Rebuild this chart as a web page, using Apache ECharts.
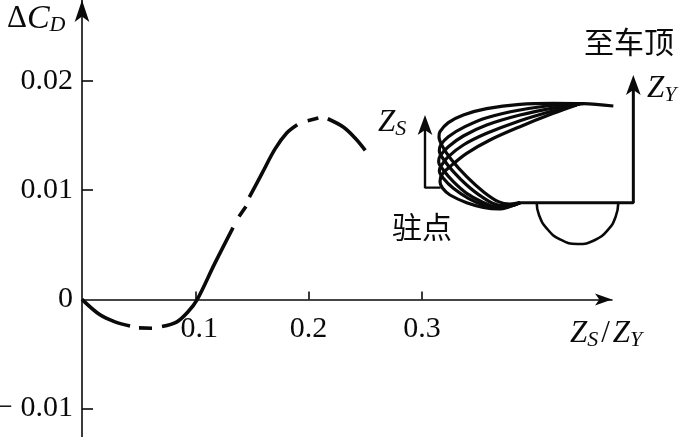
<!DOCTYPE html>
<html><head><meta charset="utf-8">
<style>html,body{margin:0;padding:0;background:#fff}#c{width:682px;height:437px}</style>
<script src="https://cdn.jsdelivr.net/npm/echarts@6/dist/echarts.min.js"></script>
</head><body><div id="c"></div>
<script>
// main curve: [ZS/ZY, dCD]; nulls are the gaps of the printed dashes
const dragCurve = [[0,0],[.0159,-.00142],[.0291,-.00206],[.0424,-.00243],null,
  [.0503,-.00261],[.0618,-.00264],null,
  [.0706,-.00249],[.0838,-.00206],[.0936,-.00114],[.1015,-.00005],[.1170,.00325],[.1333,.00657],null,
  [.1386,.00758],[.1447,.0085],null,
  [.1477,.00936],[.1590,.01155],[.1703,.01375],[.1807,.01522],[.19,.01598],null,
  [.1992,.01635],[.2086,.01659],null,
  [.2169,.01653],[.2306,.01577],[.241,.01476],[.25,.01363]];
const xTicks = [.1,.2,.3];
const yTicks = [-.01,0,.01,.02];
const xTickLabels = ['0.1','0.2','0.3'];
const yTickLabels = ['\u2212 0.01','0','0.01','0.02'];

// inset sketch, in its own units
const car1 = [[730,258],[640,251],[550,250],[450,253],[350,266],[280,285],[235,308],[210,335],[207,350],[218,380],[245,420],[290,470],[340,515],[385,545],[420,552],[450,548]];
const car2 = [[640,251],[560,255],[450,270],[350,293],[285,320],[235,350],[212,375],[208,392],[222,420],[250,455],[290,495],[335,530],[385,555],[420,556],[450,548]];
const car3 = [[630,252],[560,262],[450,285],[350,315],[280,348],[235,380],[210,408],[206,425],[220,450],[250,485],[290,520],[335,545],[385,562],[425,556],[450,548]];
const car4 = [[630,252],[550,272],[450,302],[350,340],[280,375],[235,410],[212,440],[208,452],[220,475],[250,505],[295,535],[340,555],[385,565],[425,557],[450,548]];
const car5 = [[620,255],[550,280],[450,320],[360,360],[290,400],[240,440],[215,465],[210,485],[218,505],[240,525],[290,548],[340,562],[385,567],[425,558],[450,548]];
const floorLine = [[450,548],[790,548],[790,200]];
const stagnationLine = [[212,503],[165,503],[165,320]];
const wheel = [[500,548],[507,585],[530,625],[570,658],[622,672],[675,660],[715,628],[737,590],[745,548]];
const arrowHeads = [[790,165],[165,285]];

const ink = '#0a0a0a';
const serif = '"Liberation Serif","Times New Roman",serif';
const cjk = '"Noto Sans CJK SC",sans-serif';
const carLine = d => ({type:'line',xAxisIndex:1,yAxisIndex:1,data:d,smooth:.35,symbol:'none',silent:true,
  lineStyle:{color:ink,width:3.2},z:4});
const straight = (d,w) => ({type:'line',xAxisIndex:1,yAxisIndex:1,data:d,symbol:'none',silent:true,
  lineStyle:{color:ink,width:w},z:3});
const italicRich = {
  i:{fontFamily:serif,fontStyle:'italic',fontSize:31,fill:ink,color:ink},
  I:{fontFamily:serif,fontStyle:'italic',fontSize:34,fill:ink,color:ink},
  s:{fontFamily:serif,fontStyle:'italic',fontSize:22,fill:ink,color:ink,padding:[12,0,0,0]},
  r:{fontFamily:serif,fontSize:31,fill:ink,color:ink,padding:[0,3,0,3]}
};
const txt = (x,y,text) => ({type:'text',x,y,silent:true,style:{text,rich:italicRich,fill:ink,font:'31px '+serif}});
const cn = (x,y,text) => ({type:'text',x,y,silent:true,style:{text,fill:ink,font:'30px '+cjk}});

const chart = echarts.init(document.getElementById('c'),null,{renderer:'canvas'});
chart.setOption({
  animation:false,backgroundColor:'#fff',
  grid:[
    {left:82,right:70,top:0,bottom:0,containLabel:false,outerBoundsMode:'none'},
    {left:370,top:20,width:312,height:240,outerBoundsMode:'none'}
  ],
  xAxis:[
    {type:'value',min:0,max:.4678,interval:.1,splitLine:{show:false},offset:-137.5,
     axisLine:{onZero:false,lineStyle:{color:ink,width:1.6},symbol:['none','arrow'],symbolSize:[9,17]},
     axisTick:{inside:true,length:8,customValues:xTicks,lineStyle:{color:ink,width:1.6}},
     axisLabel:{margin:15,customValues:xTicks,color:ink,fontFamily:serif,fontSize:30,
       rich:{shift:{fontFamily:serif,fontSize:30,color:ink,padding:[0,0,0,8]}},
       formatter:v=>{const i=xTicks.findIndex(t=>Math.abs(t-v)<1e-6);return i<0?'':(i===0?'{shift|'+xTickLabels[i]+'}':xTickLabels[i]);}}},
    {type:'value',gridIndex:1,min:0,max:936,show:false}
  ],
  yAxis:[
    {type:'value',min:-.0126,max:.0274,splitLine:{show:false},
     axisLine:{onZero:false,lineStyle:{color:ink,width:1.6},symbol:['none','arrow'],symbolSize:[11,22]},
     axisTick:{inside:true,length:11,customValues:[-.01,.01,.02],lineStyle:{color:ink,width:1.6}},
     axisLabel:{margin:9,customValues:yTicks,color:ink,fontFamily:serif,fontSize:30,showMinLabel:true,showMaxLabel:true,
       formatter:v=>{const i=yTicks.findIndex(t=>Math.abs(t-v)<1e-6);return i<0?'':yTickLabels[i];}}},
    {type:'value',gridIndex:1,min:0,max:720,inverse:true,show:false}
  ],
  series:[
    {type:'line',data:dragCurve,smooth:.35,connectNulls:false,symbol:'none',silent:true,
     lineStyle:{color:ink,width:3.6,cap:'butt'},z:5},
    carLine(car1),carLine(car2),carLine(car3),carLine(car4),carLine(car5),
    straight(floorLine,3),straight(stagnationLine,2.4),
    {type:'line',xAxisIndex:1,yAxisIndex:1,data:wheel,smooth:.5,symbol:'none',silent:true,lineStyle:{color:ink,width:2.6},z:3},
    {type:'scatter',xAxisIndex:1,yAxisIndex:1,data:arrowHeads,symbol:'arrow',symbolSize:[11,20],silent:true,itemStyle:{color:ink,opacity:1},z:6}
  ],
  graphic:[
    txt(7,2,'\u0394{I|C}{s|D}'),
    txt(570,317,'{i|Z}{s|S}{r|/}{i|Z}{s|Y}'),
    txt(378,106,'{i|Z}{s|S}'),
    txt(647,72,'{i|Z}{s|Y}'),
    cn(584,27,'至车顶'),
    cn(392,212,'驻点')
  ]
});
</script></body></html>
